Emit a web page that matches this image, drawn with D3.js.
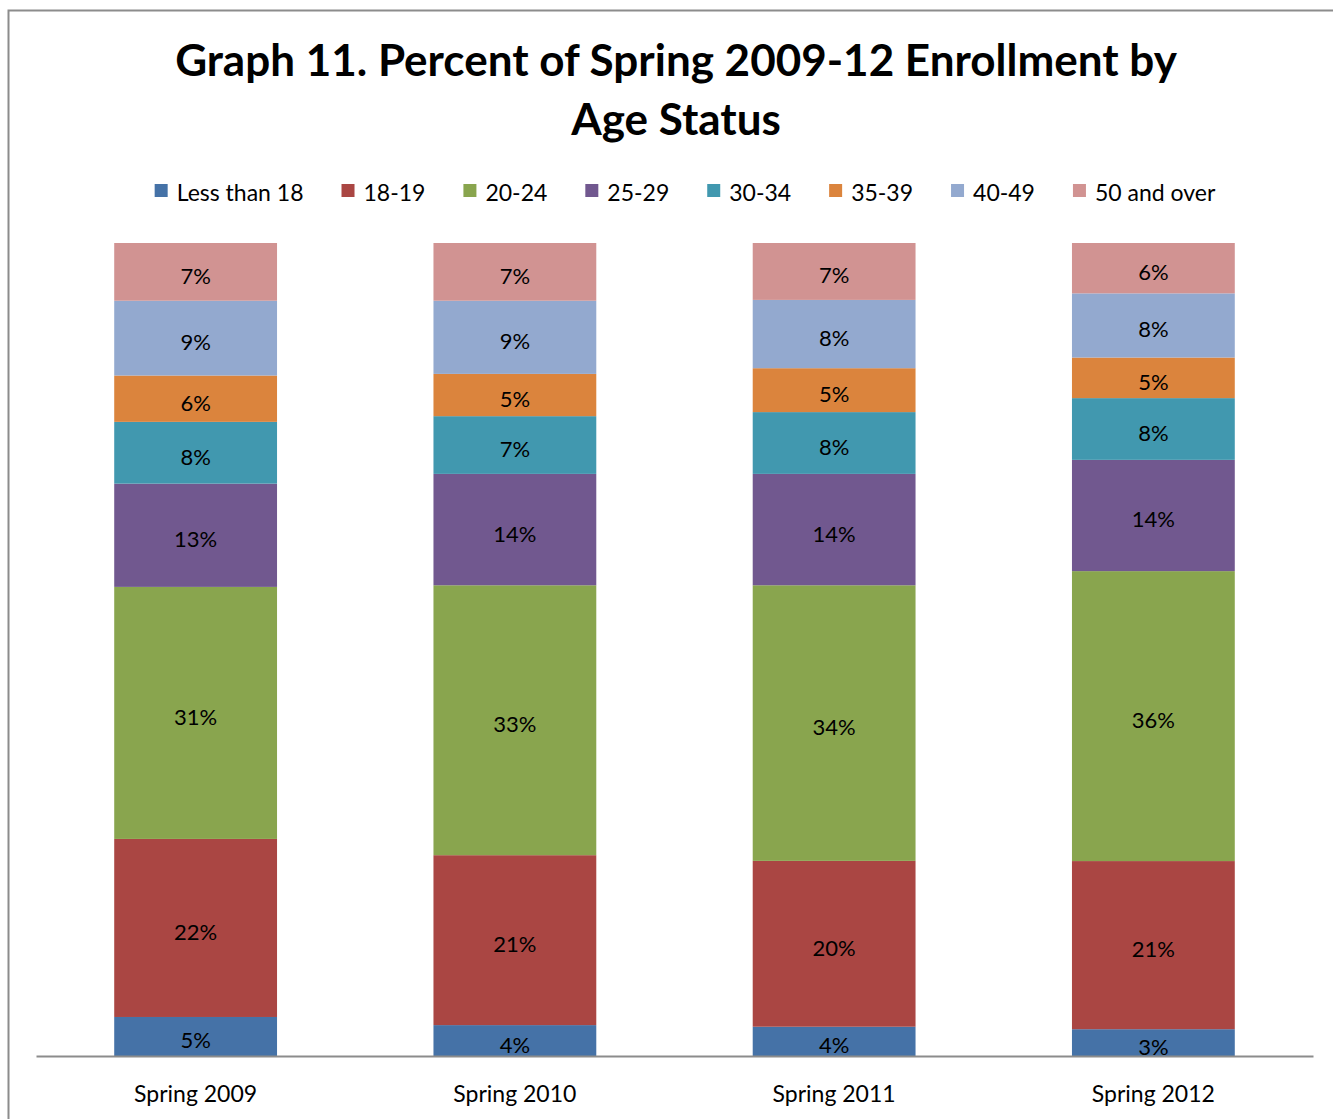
<!DOCTYPE html>
<html>
<head>
<meta charset="utf-8">
<script src="https://cdn.jsdelivr.net/npm/d3@7"></script>
<style>
  body { margin: 0; background: #fff; }
  text { font-family: Lato, "Open Sans", sans-serif; fill: #000; }
</style>
</head>
<body>
<div id="chart"></div>
<script>
const terms = ["Spring 2009", "Spring 2010", "Spring 2011", "Spring 2012"]
const ageGroups = ["Less than 18", "18-19", "20-24", "25-29", "30-34", "35-39", "40-49", "50 and over"]
// percent of enrollment, one list per age group, in term order
const lessThan18 = [4.8, 3.8, 3.6, 3.3]
const age18to19 = [21.9, 20.9, 20.4, 20.7]
const age20to24 = [31.0, 33.2, 33.9, 35.7]
const age25to29 = [12.7, 13.7, 13.7, 13.7]
const age30to34 = [7.6, 7.1, 7.6, 7.6]
const age35to39 = [5.7, 5.2, 5.4, 5.0]
const age40to49 = [9.2, 9.0, 8.4, 7.9]
const age50plus = [7.1, 7.1, 7.0, 6.2]
const seriesValues = [lessThan18, age18to19, age20to24, age25to29, age30to34, age35to39, age40to49, age50plus]
const colors = ["#4572A7", "#AA4643", "#89A54E", "#71588F", "#4198AF", "#DB843D", "#93A9CF", "#D19392"]

const width = 1333, height = 1119
const margin = { top: 243, left: 36, bottom: 63, right: 20 }

const svg = d3.select("div#chart").append("svg").attr("width", width).attr("height", height)

// outer chart frame
svg.append("rect").attr("x", 8.5).attr("y", 10.5).attr("width", 1340).attr("height", 1130)
  .attr("fill", "none").attr("stroke", "#8c8c8c").attr("stroke-width", 2)

// title
const title = svg.append("text").attr("text-anchor", "middle").attr("font-weight", "bold").attr("font-size", 44)
title.append("tspan").attr("x", 676).attr("y", 76).text("Graph 11. Percent of Spring 2009-12 Enrollment by")
title.append("tspan").attr("x", 676).attr("y", 135).text("Age Status")

// build table
const table = terms.map((t, i) => {
  const row = { term: t }
  ageGroups.forEach((g, j) => row[g] = seriesValues[j][i])
  return row
})
const stack = d3.stack().keys(ageGroups).offset(d3.stackOffsetExpand)
const series = stack(table)

const x = d3.scaleBand().domain(terms).range([margin.left, 1313]).paddingInner(0.49).paddingOuter(0.245)
const y = d3.scaleLinear().domain([0, 1]).range([height - margin.bottom, margin.top])

const elementGroup = svg.append("g")
series.forEach((s, j) => {
  const g = elementGroup.append("g").attr("fill", colors[j])
  g.selectAll("rect").data(s).join("rect")
    .attr("x", d => x(d.data.term))
    .attr("width", x.bandwidth())
    .attr("y", d => y(d[1]))
    .attr("height", d => y(d[0]) - y(d[1]))
})
series.forEach((s, j) => {
  elementGroup.append("g").selectAll("text").data(s).join("text")
    .attr("x", d => x(d.data.term) + x.bandwidth() / 2)
    .attr("y", d => (y(d[0]) + y(d[1])) / 2 + 12)
    .attr("text-anchor", "middle").attr("font-size", 22)
    .text(d => Math.round(d.data[s.key]) + "%")
})

// x axis
const xAxis = d3.axisBottom(x).tickSize(0).tickPadding(30)
const xAxisGroup = svg.append("g").attr("transform", `translate(0, ${height - margin.bottom})`).call(xAxis)
xAxisGroup.select(".domain").attr("stroke", "#8c8c8c").attr("stroke-width", 2)
xAxisGroup.selectAll("text").attr("font-size", 23).attr("font-family", "Lato, 'Open Sans', sans-serif").attr("fill", "#000")

// legend
const legend = svg.append("g")
let lx = 0
ageGroups.forEach((g, j) => {
  const item = legend.append("g").attr("transform", `translate(${lx}, 0)`)
  item.append("rect").attr("x", 0).attr("y", 184).attr("width", 13).attr("height", 13).attr("fill", colors[j])
  const t = item.append("text").attr("x", 22).attr("y", 201).attr("font-size", 23).text(g)
  lx += 22 + t.node().getComputedTextLength() + 38
})
const legendWidth = lx - 38
legend.attr("transform", `translate(${685 - legendWidth / 2}, 0)`)
</script>
</body>
</html>
